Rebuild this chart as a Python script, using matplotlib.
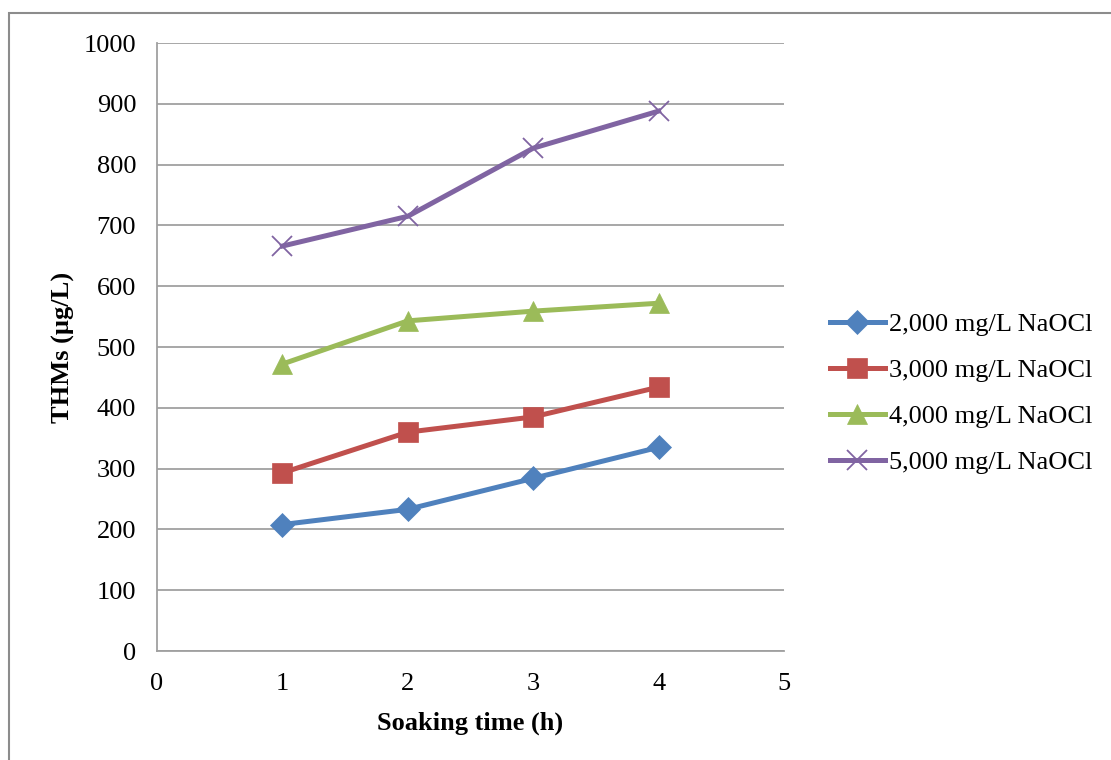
import matplotlib.pyplot as plt
from matplotlib.patches import Rectangle

# soaking time (h) and THMs (ug/L) per NaOCl dose
time_h = [1, 2, 3, 4]
thm_2000 = [208, 233, 284, 335]
thm_3000 = [293, 360, 385, 434]
thm_4000 = [472, 543, 559, 572]
thm_5000 = [666, 715, 827, 888]
labels = ["2,000 mg/L NaOCl", "3,000 mg/L NaOCl", "4,000 mg/L NaOCl", "5,000 mg/L NaOCl"]

plt.rcParams['font.family'] = ['Liberation Serif', 'DejaVu Serif']

fig = plt.figure(figsize=(11.11, 7.6), dpi=100)
ax = fig.add_axes([157/1111, 1 - 651/760, (784 - 157)/1111, (651 - 43)/760])

# outer chart border (excel style)
fig.add_artist(Rectangle((9/1111, -0.05), 1.2, 1 - 13/760 + 0.05, transform=fig.transFigure,
                         fill=False, edgecolor='#8c8c8c', linewidth=1.5))

series = [
    (thm_2000, '#4F81BD', 'D', 12.5),
    (thm_3000, '#C0504D', 's', 14),
    (thm_4000, '#9BBB59', '^', 14),
    (thm_5000, '#8064A2', 'x', 15),
]
for (vals, col, mk, ms), lab in zip(series, labels):
    ax.plot(time_h, vals, color=col, linewidth=3.6, marker=mk, markersize=ms,
            markeredgewidth=1.3 if mk == 'x' else 0.5, markeredgecolor=col,
            markerfacecolor=col, label=lab, zorder=3)

ax.set_xlim(0, 5)
ax.set_ylim(0, 1000)
ax.set_xticks(range(0, 6))
ax.set_yticks(range(0, 1001, 100))
ax.yaxis.grid(True, color='#a0a0a0', linewidth=1.3)
ax.set_axisbelow(True)
for s in ['top', 'right']:
    ax.spines[s].set_visible(False)
for s in ['left', 'bottom']:
    ax.spines[s].set_color('#a0a0a0')
    ax.spines[s].set_linewidth(1.3)
ax.tick_params(length=0, labelsize=19)
ax.tick_params(axis='y', pad=15)
ax.tick_params(axis='x', pad=16)

ax.set_xlabel('Soaking time (h)', fontsize=19, fontweight='bold', labelpad=12)
ax.set_ylabel('THMs (\u00b5g/L)', fontsize=19, fontweight='bold', labelpad=6)

ax.legend(loc='center left', bbox_to_anchor=(1.073, 0.424), frameon=False, fontsize=19,
          handlelength=2.08, handletextpad=0.15, labelspacing=0.85, borderaxespad=0,
          borderpad=0)

fig.savefig('out.png', dpi=100)
